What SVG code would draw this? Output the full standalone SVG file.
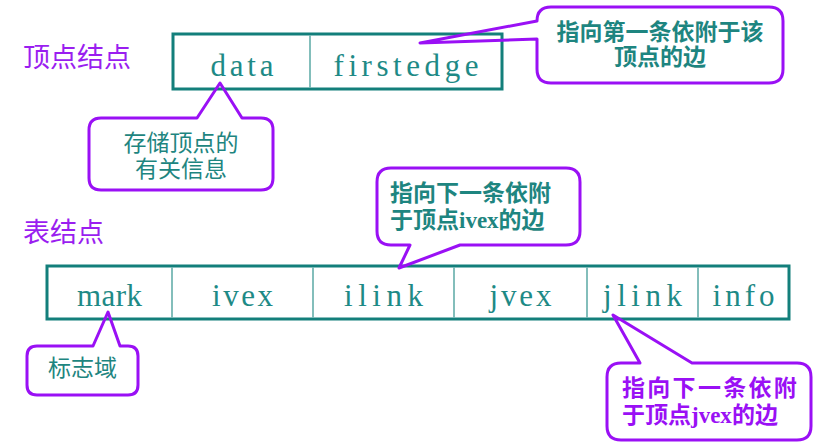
<svg xmlns="http://www.w3.org/2000/svg" width="832" height="447" viewBox="0 0 832 447">
<style>
.title{font-family:"Noto Sans CJK SC","Noto Sans",sans-serif;font-size:27px;fill:#9a1ef0}
.frame{fill:none;stroke:#137f7b;stroke-width:3}
.div{stroke:#5aa9a5;stroke-width:1.5}
.field{font-family:"Liberation Serif",serif;font-size:31px;fill:#1e8a86;text-anchor:middle}
.callout{fill:none;stroke:#9a10f5;stroke-width:3;stroke-linejoin:round}
.note{font-family:"Noto Sans CJK SC","Noto Sans",sans-serif;font-size:23px;fill:#1e8580}
.b{font-weight:bold}
.lat{font-family:"Liberation Serif",serif;font-weight:bold}
.pnote{fill:#9a10f5}
</style>
<rect width="832" height="447" fill="#ffffff"/>

<text class="title" x="23" y="67">顶点结点</text>
<text class="title" x="23" y="242">表结点</text>

<g id="vertex-node">
<rect class="frame" x="173" y="34" width="329" height="55"/>
<line class="div" x1="310" y1="35.5" x2="310" y2="87.5"/>
<text class="field" x="242" y="76" textLength="63" lengthAdjust="spacing">data</text>
<text class="field" x="406" y="76" textLength="145" lengthAdjust="spacing">firstedge</text>
</g>

<g id="edge-node">
<rect class="frame" x="47" y="266" width="742" height="53"/>
<line class="div" x1="172" y1="267.5" x2="172" y2="317.5"/>
<line class="div" x1="313" y1="267.5" x2="313" y2="317.5"/>
<line class="div" x1="454" y1="267.5" x2="454" y2="317.5"/>
<line class="div" x1="587" y1="267.5" x2="587" y2="317.5"/>
<line class="div" x1="698" y1="267.5" x2="698" y2="317.5"/>
<text class="field" x="109.5" y="306" textLength="65" lengthAdjust="spacing">mark</text>
<text class="field" x="242.5" y="306" textLength="61" lengthAdjust="spacing">ivex</text>
<text class="field" x="383.5" y="306" textLength="79" lengthAdjust="spacing">ilink</text>
<text class="field" x="520.5" y="306" textLength="62" lengthAdjust="spacing">jvex</text>
<text class="field" x="642.5" y="306" textLength="79" lengthAdjust="spacing">jlink</text>
<text class="field" x="743.5" y="306" textLength="62" lengthAdjust="spacing">info</text>
</g>

<g id="connectors">
<path id="callout-data" class="callout" d="M101,118 L197,118 L220,83 L242,118 L261,118 Q273,118 273,130 L273,178 Q273,190 261,190 L101,190 Q89,190 89,178 L89,130 Q89,118 101,118 Z"/>
<path id="callout-firstedge" class="callout" d="M551,7 L769,7 Q783,7 783,21 L783,69 Q783,83 769,83 L551,83 Q537,83 537,69 L537,39 L420,43 L537,21 Q537,7 551,7 Z"/>
<path id="callout-ilink" class="callout" d="M391,168 L566,168 Q580,168 580,182 L580,231 Q580,245 566,245 L460,245 L399,268 L410,245 L391,245 Q377,245 377,231 L377,182 Q377,168 391,168 Z"/>
<path id="callout-jlink" class="callout" d="M621,363 L640,363 L613,315 L692,363 L797,363 Q811,363 811,377 L811,426 Q811,440 797,440 L621,440 Q607,440 607,426 L607,377 Q607,363 621,363 Z"/>
<path id="callout-mark" class="callout" d="M37,346 L93,346 L108,312 L120,346 L128,346 Q138,346 138,356 L138,385 Q138,395 128,395 L37,395 Q27,395 27,385 L27,356 Q27,346 37,346 Z"/>
</g>

<g id="note-data">
<text class="note" text-anchor="middle"><tspan x="181" y="151">存储顶点的</tspan><tspan x="181" y="177">有关信息</tspan></text>
</g>
<g id="note-firstedge">
<text class="note b" text-anchor="middle"><tspan x="660" y="40">指向第一条依附于该</tspan><tspan x="660" y="65">顶点的边</tspan></text>
</g>
<g id="note-ilink">
<text class="note b"><tspan x="390" y="201">指向下一条依附</tspan><tspan x="390" y="228">于顶点</tspan><tspan class="lat">ivex</tspan><tspan>的边</tspan></text>
</g>
<g id="note-jlink">
<text class="note b pnote"><tspan x="622" y="396" letter-spacing="2.3">指向下一条依附</tspan><tspan x="622" y="423">于顶点</tspan><tspan class="lat">jvex</tspan><tspan>的边</tspan></text>
</g>
<g id="note-mark">
<text class="note" x="82.5" y="376" text-anchor="middle">标志域</text>
</g>
</svg>
